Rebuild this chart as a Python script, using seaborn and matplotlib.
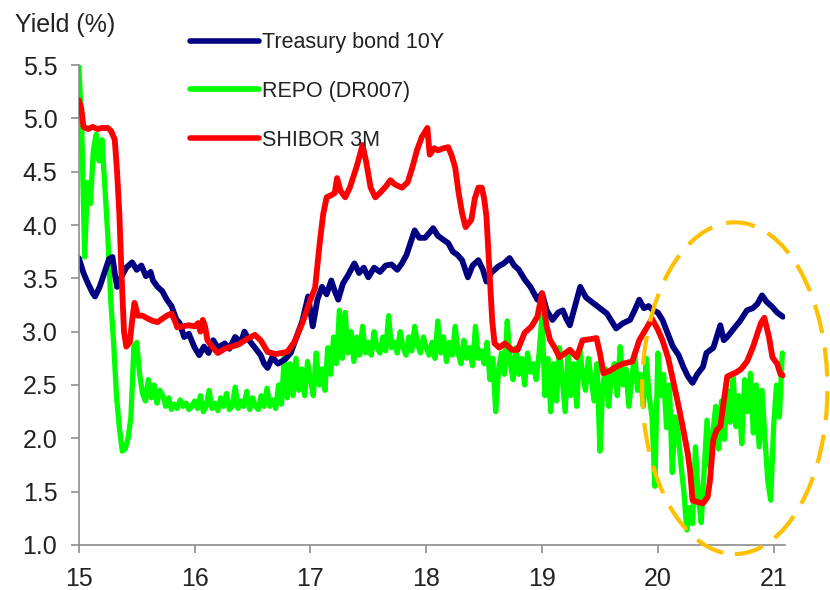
import numpy as np
import matplotlib
matplotlib.use("Agg")
import matplotlib.pyplot as plt
import seaborn as sns
from matplotlib.patches import Ellipse

sns.set_style("white")
plt.rcParams["font.family"] = ["Liberation Sans", "DejaVu Sans"]

# Treasury bond 10Y (x in years, 15 = 2015)
tb_x = [15.00, 15.04, 15.08, 15.12, 15.14, 15.18, 15.22, 15.26, 15.29, 15.31, 15.33, 15.37, 15.41, 15.46,
        15.50, 15.54, 15.58, 15.62, 15.64, 15.68, 15.72, 15.76, 15.80, 15.84, 15.87, 15.91, 15.95, 16.00,
        16.04, 16.08, 16.12, 16.16, 16.20, 16.26, 16.30, 16.35, 16.40, 16.43, 16.47, 16.52, 16.57, 16.60,
        16.63, 16.67, 16.72, 16.78, 16.83, 16.88, 16.93, 16.98, 17.02, 17.06, 17.10, 17.14, 17.18, 17.21,
        17.24, 17.28, 17.32, 17.38, 17.42, 17.46, 17.50, 17.55, 17.60, 17.65, 17.70, 17.75, 17.79, 17.83,
        17.87, 17.90, 17.94, 17.99, 18.03, 18.06, 18.10, 18.15, 18.19, 18.23, 18.27, 18.31, 18.36, 18.40,
        18.45, 18.49, 18.52, 18.56, 18.62, 18.67, 18.72, 18.76, 18.80, 18.85, 18.90, 18.96, 19.00, 19.04,
        19.09, 19.14, 19.18, 19.21, 19.24, 19.28, 19.33, 19.38, 19.44, 19.50, 19.56, 19.60, 19.64, 19.70,
        19.76, 19.80, 19.84, 19.88, 19.92, 19.96, 20.00, 20.04, 20.08, 20.13, 20.18, 20.22, 20.26, 20.30,
        20.34, 20.39, 20.42, 20.48, 20.54, 20.57, 20.60, 20.65, 20.71, 20.77, 20.82, 20.86, 20.90, 20.94,
        20.99, 21.03, 21.08]
tb_y = [3.69, 3.55, 3.45, 3.36, 3.33, 3.42, 3.55, 3.68, 3.70, 3.55, 3.42, 3.52, 3.60, 3.65,
        3.58, 3.62, 3.52, 3.56, 3.48, 3.42, 3.38, 3.30, 3.24, 3.12, 3.08, 2.95, 2.98, 2.85,
        2.78, 2.86, 2.80, 2.92, 2.85, 2.89, 2.84, 2.95, 2.90, 3.00, 2.92, 2.85, 2.78, 2.70,
        2.66, 2.76, 2.70, 2.74, 2.80, 2.95, 3.10, 3.33, 3.05, 3.30, 3.42, 3.35, 3.48, 3.38,
        3.30, 3.45, 3.52, 3.64, 3.55, 3.60, 3.51, 3.60, 3.56, 3.62, 3.63, 3.58, 3.64, 3.72,
        3.85, 3.95, 3.88, 3.88, 3.93, 3.97, 3.90, 3.86, 3.83, 3.75, 3.72, 3.67, 3.51, 3.62,
        3.67, 3.58, 3.47, 3.55, 3.61, 3.64, 3.69, 3.62, 3.58, 3.49, 3.42, 3.30, 3.36, 3.20,
        3.11, 3.18, 3.20, 3.12, 3.06, 3.22, 3.42, 3.32, 3.27, 3.22, 3.17, 3.10, 3.03, 3.08,
        3.11, 3.20, 3.30, 3.22, 3.24, 3.20, 3.18, 3.11, 3.00, 2.86, 2.78, 2.67, 2.58, 2.52,
        2.60, 2.67, 2.80, 2.85, 3.06, 2.92, 2.95, 3.02, 3.10, 3.20, 3.22, 3.26, 3.34, 3.28,
        3.23, 3.18, 3.14]

# REPO (DR007), one value every 0.025 year from 15.0
repo_start, repo_step = 15.0, 0.025
repo_y = [5.50, 4.90, 3.70, 4.40, 4.20, 4.70, 4.85, 4.60, 4.80, 4.35, 3.90, 3.30, 2.90, 2.40, 2.10, 1.88, 1.90, 2.00, 2.20, 2.86,
          2.90, 2.60, 2.42, 2.35, 2.55, 2.38, 2.50, 2.33, 2.45, 2.40, 2.30, 2.38, 2.27, 2.32, 2.28, 2.36, 2.30, 2.33, 2.27, 2.30,
          2.35, 2.28, 2.40, 2.25, 2.30, 2.45, 2.28, 2.33, 2.26, 2.38, 2.30, 2.42, 2.27, 2.30, 2.48, 2.28, 2.35, 2.30, 2.44, 2.27,
          2.38, 2.30, 2.27, 2.40, 2.30, 2.47, 2.30, 2.36, 2.28, 2.50, 2.32, 2.78, 2.38, 2.70, 2.40, 2.75, 2.45, 2.65, 2.40, 2.72,
          2.55, 2.40, 2.80, 2.50, 2.65, 2.45, 2.85, 2.60, 2.95, 2.70, 3.20, 2.75, 3.18, 2.80, 3.00, 2.72, 2.95, 2.78, 3.05, 2.80,
          2.90, 2.78, 3.00, 2.85, 2.80, 2.95, 2.82, 3.15, 2.85, 2.90, 2.80, 3.00, 2.85, 2.78, 2.95, 2.82, 3.05, 2.88, 2.80, 2.95,
          2.85, 2.78, 2.90, 2.75, 3.10, 2.80, 2.95, 2.72, 2.90, 2.78, 3.05, 2.80, 2.70, 2.92, 2.75, 2.85, 2.68, 3.05, 2.75, 2.82,
          2.70, 2.90, 2.55, 2.75, 2.25, 2.65, 2.80, 2.60, 3.10, 2.70, 2.55, 2.85, 2.60, 2.75, 2.50, 2.80, 2.62, 2.70, 2.55, 2.80,
          3.15, 2.40, 2.75, 2.25, 2.70, 2.35, 2.85, 2.55, 2.25, 2.80, 2.40, 2.70, 2.30, 2.85, 2.60, 2.45, 2.75, 2.55, 2.35, 2.70,
          1.88, 2.50, 2.65, 2.30, 2.60, 2.70, 2.40, 2.86, 2.50, 2.65, 2.30, 2.55, 2.80, 2.45, 2.60, 2.30, 2.75, 2.40, 2.20, 1.55,
          2.80, 2.40, 2.60, 2.10, 2.50, 1.68, 2.20, 2.05, 1.75, 1.50, 1.14, 1.35, 1.20, 1.92, 1.45, 1.21, 1.70, 2.17, 1.73, 2.05,
          2.30, 1.90, 2.35, 1.99, 2.45, 2.15, 2.60, 2.11, 2.40, 1.95, 2.55, 2.25, 2.61, 2.05, 2.50, 1.92, 2.45, 2.00, 1.60, 1.42,
          2.11, 2.50, 2.20, 2.80]
repo_x = repo_start + repo_step * np.arange(len(repo_y))

# SHIBOR 3M
sh_x = [15.00, 15.02, 15.04, 15.08, 15.12, 15.16, 15.20, 15.25, 15.28, 15.31, 15.33, 15.35, 15.37, 15.39,
        15.41, 15.44, 15.46, 15.48, 15.51, 15.55, 15.60, 15.64, 15.68, 15.72, 15.76, 15.80, 15.83, 15.85,
        15.90, 15.95, 16.00, 16.03, 16.05, 16.07, 16.09, 16.11, 16.15, 16.20, 16.26, 16.32, 16.38, 16.45,
        16.52, 16.57, 16.63, 16.70, 16.80, 16.86, 16.93, 17.00, 17.04, 17.08, 17.11, 17.14, 17.18, 17.21,
        17.23, 17.26, 17.30, 17.34, 17.40, 17.45, 17.48, 17.52, 17.56, 17.60, 17.65, 17.69, 17.73, 17.79,
        17.84, 17.88, 17.92, 17.96, 18.01, 18.03, 18.07, 18.10, 18.15, 18.19, 18.22, 18.25, 18.28, 18.31,
        18.34, 18.39, 18.42, 18.45, 18.48, 18.50, 18.52, 18.55, 18.57, 18.59, 18.63, 18.68, 18.74, 18.79,
        18.85, 18.91, 18.96, 19.00, 19.04, 19.07, 19.11, 19.15, 19.24, 19.30, 19.35, 19.42, 19.47, 19.50,
        19.53, 19.58, 19.64, 19.70, 19.78, 19.84, 19.90, 19.95, 20.00, 20.04, 20.09, 20.13, 20.18, 20.22,
        20.26, 20.28, 20.30, 20.35, 20.39, 20.43, 20.45, 20.48, 20.51, 20.54, 20.57, 20.60, 20.64, 20.68,
        20.72, 20.77, 20.82, 20.85, 20.89, 20.92, 20.96, 20.99, 21.03, 21.06, 21.08]
sh_y = [5.17, 5.10, 4.92, 4.90, 4.92, 4.90, 4.91, 4.91, 4.88, 4.80, 4.50, 4.10, 3.50, 3.00,
        2.86, 2.90, 3.10, 3.27, 3.15, 3.15, 3.12, 3.10, 3.09, 3.12, 3.15, 3.17, 3.10, 3.04,
        3.05, 3.06, 3.05, 3.08, 3.00, 3.11, 3.05, 2.92, 2.86, 2.80, 2.84, 2.86, 2.88, 2.93,
        2.97, 2.92, 2.81, 2.79, 2.81, 2.90, 3.08, 3.30, 3.41, 3.83, 4.10, 4.26, 4.28, 4.30,
        4.44, 4.32, 4.26, 4.35, 4.55, 4.75, 4.60, 4.35, 4.26, 4.30, 4.36, 4.42, 4.38, 4.35,
        4.40, 4.54, 4.70, 4.82, 4.91, 4.66, 4.72, 4.70, 4.72, 4.73, 4.65, 4.54, 4.30, 4.11,
        3.98, 4.05, 4.25, 4.35, 4.35, 4.25, 4.08, 3.50, 3.10, 2.89, 2.85, 2.89, 2.83, 2.83,
        2.99, 3.05, 3.14, 3.36, 3.05, 2.92, 2.85, 2.76, 2.83, 2.76, 2.92, 2.93, 2.94, 2.80,
        2.61, 2.63, 2.67, 2.70, 2.72, 2.92, 3.03, 3.12, 3.02, 2.92, 2.75, 2.55, 2.30, 2.08,
        1.85, 1.68, 1.42, 1.40, 1.39, 1.45, 1.60, 1.99, 2.08, 2.11, 2.35, 2.58, 2.60, 2.62,
        2.65, 2.72, 2.85, 2.95, 3.08, 3.13, 2.95, 2.76, 2.70, 2.60, 2.59]

labels = ["Treasury bond 10Y", "REPO (DR007)", "SHIBOR 3M"]
colors = ["#000080", "#00FF00", "#FF0000"]
x_ticks = [15, 16, 17, 18, 19, 20, 21]
y_ticks = [1.0, 1.5, 2.0, 2.5, 3.0, 3.5, 4.0, 4.5, 5.0, 5.5]

fig = plt.figure(figsize=(8.3, 5.9), dpi=100)
ax = fig.add_axes([0.095, 0.0763, 0.851, 0.8135])

sns.lineplot(x=tb_x, y=tb_y, ax=ax, color=colors[0], lw=4.2, label=labels[0], zorder=2)
sns.lineplot(x=repo_x, y=repo_y, ax=ax, color=colors[1], lw=3.8, label=labels[1], zorder=1)
sns.lineplot(x=sh_x, y=sh_y, ax=ax, color=colors[2], lw=4.2, label=labels[2], zorder=3)

# highlight of the 2020 episode
ell = Ellipse((20.665, 2.47), 1.6, 3.11, fill=False, ec="#FFC000", lw=3,
              ls=(0, (7, 3.5)), clip_on=False, zorder=5)
ax.add_patch(ell)

ax.set_xlim(15, 21.1)
ax.set_ylim(1.0, 5.5)
ax.set_xticks(x_ticks)
ax.set_xticklabels([str(t) for t in x_ticks])
ax.set_yticks(y_ticks)
ax.set_yticklabels([f"{t:.1f}" for t in y_ticks])
for s in ["top", "right"]:
    ax.spines[s].set_visible(False)
for s in ["left", "bottom"]:
    ax.spines[s].set_color("#8c8c8c")
    ax.spines[s].set_linewidth(1.2)
ax.tick_params(axis="both", direction="out", length=5.5, width=1.2, color="#8c8c8c",
               labelsize=18, labelcolor="#222222", pad=10, left=True, bottom=True)

leg = ax.legend(loc="upper left", bbox_to_anchor=(0.229, 0.945), bbox_transform=fig.transFigure,
                frameon=False, fontsize=15.5, handlelength=3.2, handletextpad=0.12,
                labelspacing=1.28, borderpad=0, borderaxespad=0)
for t in leg.get_texts():
    t.set_color("#222222")
for h in leg.get_lines():
    h.set_linewidth(4)
ax.set_xlabel("")
ax.set_ylabel("")

fig.text(0.018, 0.978, "Yield (%)", fontsize=18, color="#222222", ha="left", va="top")

fig.savefig("out.png", dpi=100)
